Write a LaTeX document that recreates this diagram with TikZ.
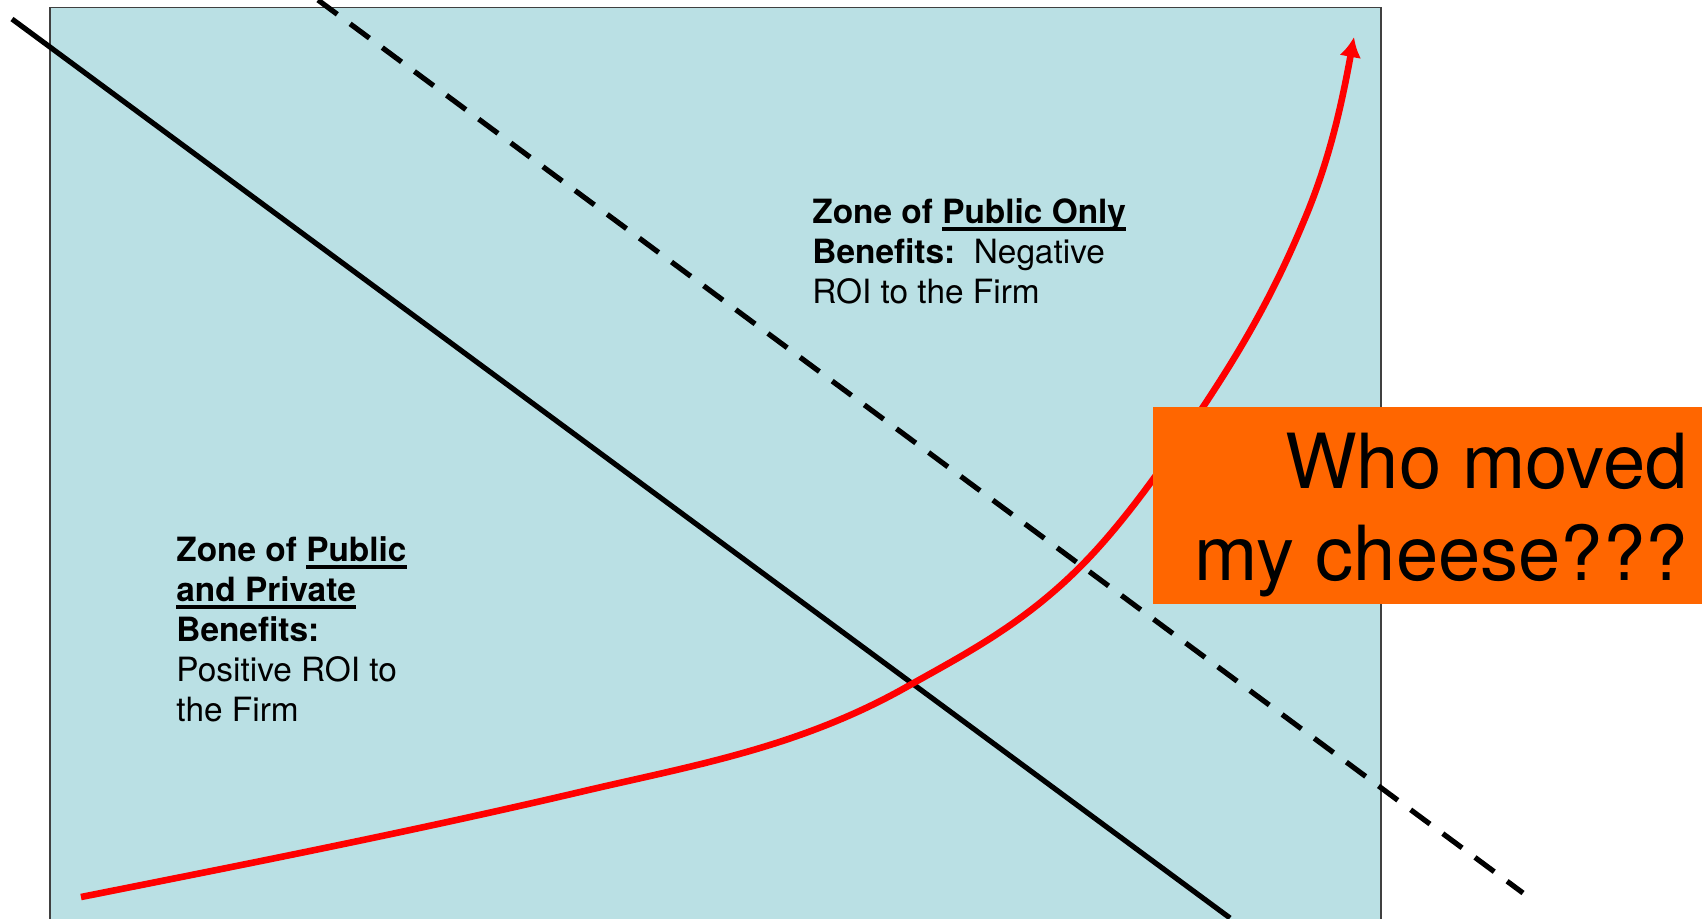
\documentclass[tikz,border=0pt]{standalone}
\usepackage{fontspec}
\setmainfont{TeX Gyre Heros}
\usetikzlibrary{arrows.meta}
\definecolor{zoneblue}{RGB}{186,224,228}
\definecolor{cheeseorange}{RGB}{255,102,0}
\newcommand{\zoneul}[1]{\setbox0\hbox{#1}\rlap{\rule[-3.7pt]{\wd0}{1.7pt}}#1}
\begin{document}
\begin{tikzpicture}[x=0.5pt,y=-0.5pt,
	zonetext/.style={anchor=north west,inner sep=0pt,align=left,font=\fontsize{16.7pt}{20pt}\selectfont},
	boundary/.style={line width=2.6pt},
	roi/.style={red,line width=3.3pt,-{Latex[length=10pt,width=11pt]}}]
	\useasboundingbox (0,0) rectangle (1702,918);
	\filldraw[fill=zoneblue,draw=black!75,line width=0.8pt] (50,7.5) rectangle (1381,930);
	\coordinate (s1) at (12,19);
	\coordinate (s2) at (1230,918);
	\coordinate (d1) at (318,0);
	\coordinate (d2) at (1523,893);
	\draw[boundary] (s1)--(s2);
	\draw[boundary,dash pattern=on 12pt off 8pt] (d1)--(d2);
	% rising return curve
	\coordinate (r0) at (81,897);
	\coordinate (r1) at (580,792);
	\coordinate (r2) at (910,685);
	\coordinate (r3) at (1080,567);
	\coordinate (r4) at (1203,407);
	\coordinate (r5) at (1303,223);
	\coordinate (r6) at (1354,37);
	\draw[roi] (r0) .. controls (247,864) and (414,831) .. (r1)
		.. controls (690,766) and (800,748) .. (r2)
		.. controls (967,653) and (1023,624) .. (r3)
		.. controls (1121,526) and (1162,469) .. (r4)
		.. controls (1236,357) and (1270,302) .. (r5)
		.. controls (1330,160) and (1342,102) .. (r6);
	\fill[cheeseorange] (1153,407) rectangle (1702,604);
	\node[zonetext] (pubonly) at (812,198) {\textbf{Zone of \zoneul{Public Only}}\\\textbf{Benefits:}\ \ Negative\\ROI to the Firm};
	\node[zonetext] (pubpriv) at (176,536) {\textbf{Zone of \zoneul{Public}}\\\textbf{\zoneul{and Private}}\\\textbf{Benefits:}\\Positive ROI to\\the Firm};
	\node[anchor=north east,inner sep=0pt,align=right,font=\fontsize{38pt}{46pt}\selectfont] (cheese) at (1688,433) {Who moved\\my cheese???};
\end{tikzpicture}
\end{document}
